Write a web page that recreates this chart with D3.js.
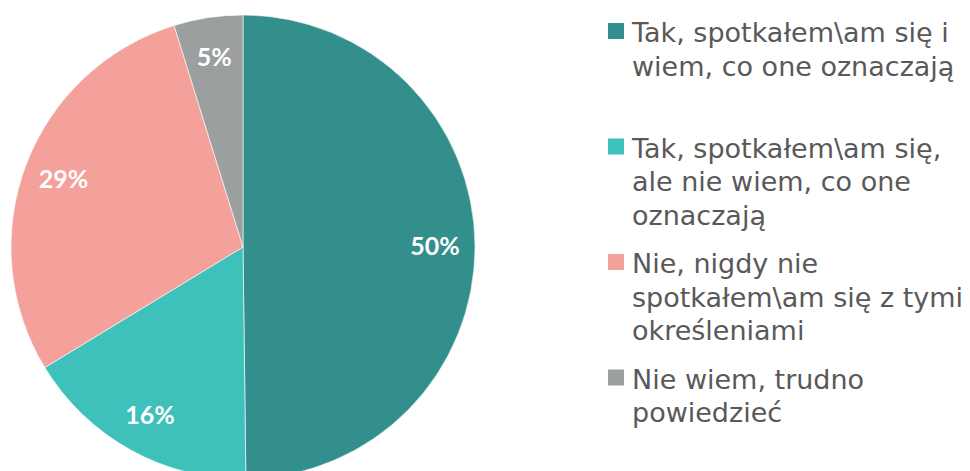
<!DOCTYPE html>
<html>
<head>
<meta charset="utf-8">
<script src="https://cdn.jsdelivr.net/npm/d3@7"></script>
<style>
  body { margin: 0; background: #fff; }
  svg { display: block; }
</style>
</head>
<body>
<svg id="chart" width="970" height="471"></svg>
<script>
// data
const categories = [
    ["Tak, spotkałem\\am się i", "wiem, co one oznaczają"],
    ["Tak, spotkałem\\am się,", "ale nie wiem, co one", "oznaczają"],
    ["Nie, nigdy nie", "spotkałem\\am się z tymi", "określeniami"],
    ["Nie wiem, trudno", "powiedzieć"]
];
const values = [49.8, 16.5, 28.9, 4.8];
const valueLabels = ["50%", "16%", "29%", "5%"];
const colors = ["#338f8c", "#3ec0bb", "#f4a09b", "#9b9fa0"];

const svg = d3.select("#chart");
const cx = 243, cy = 247, radius = 232;

let data = values.map((v, i) => ({value: v, label: valueLabels[i], color: colors[i]}));

let pie = d3.pie().value(d => d.value).sort(null);
let arc = d3.arc().innerRadius(0).outerRadius(radius);
let labelArc = d3.arc().innerRadius(192).outerRadius(192);

let g = svg.append("g").attr("transform", "translate(" + cx + "," + cy + ")");

g.selectAll("path")
    .data(pie(data))
    .enter().append("path")
    .attr("d", arc)
    .style("fill", d => d.data.color)
    .style("stroke", "#ffffff")
    .style("stroke-width", 0.6);

g.selectAll("text")
    .data(pie(data))
    .enter().append("text")
    .attr("transform", d => "translate(" + labelArc.centroid(d) + ")")
    .attr("dy", "0.36em")
    .attr("text-anchor", "middle")
    .style("font-family", "Lato, sans-serif")
    .style("font-weight", "bold")
    .style("font-size", "25px")
    .style("fill", "#ffffff")
    .text(d => d.data.label);

// legend
let legendX = 608, legendTop = 42, slot = 115.5, lineH = 33.5;
let legend = svg.append("g");
let items = legend.selectAll("g")
    .data(categories)
    .enter().append("g")
    .attr("transform", (d, i) => "translate(" + legendX + "," + (legendTop + i * slot) + ")");

items.append("rect")
    .attr("x", 0)
    .attr("y", -19)
    .attr("width", 16)
    .attr("height", 16)
    .style("fill", (d, i) => colors[i]);

items.each(function (lines) {
    let t = d3.select(this).append("text")
        .attr("x", 24)
        .attr("y", 0)
        .style("font-family", "'DejaVu Sans', sans-serif")
        .style("font-size", "27px")
        .style("fill", "#595959");
    lines.forEach((line, j) => {
        t.append("tspan")
            .attr("x", 24)
            .attr("y", j * lineH)
            .text(line);
    });
});
</script>
</body>
</html>
